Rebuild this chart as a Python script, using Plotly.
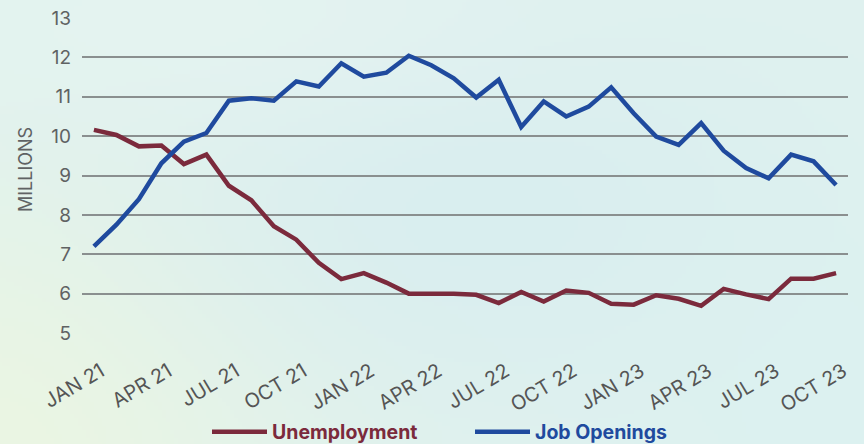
import base64
import struct
import zlib

import numpy as np
import plotly.graph_objects as go

# Monthly labels, Jan 2021 through Oct 2023
months = []
for yr in (21, 22, 23):
    for m in ["JAN", "FEB", "MAR", "APR", "MAY", "JUN", "JUL", "AUG", "SEP", "OCT", "NOV", "DEC"]:
        months.append(f"{m} {yr}")
months = months[:34]

# Millions of people
unemployment = [10.16, 10.03, 9.74, 9.76, 9.29, 9.53, 8.74, 8.37, 7.71, 7.37,
                6.78, 6.37, 6.52, 6.28, 6.00, 6.00, 6.00, 5.97, 5.76, 6.04,
                5.80, 6.08, 6.02, 5.74, 5.72, 5.96, 5.87, 5.69, 6.12, 5.98,
                5.86, 6.38, 6.38, 6.52]
job_openings = [7.20, 7.75, 8.40, 9.31, 9.86, 10.08, 10.90, 10.96, 10.90, 11.39,
                11.26, 11.85, 11.51, 11.61, 12.04, 11.80, 11.47, 10.98, 11.43, 10.23,
                10.88, 10.50, 10.75, 11.24, 10.58, 9.99, 9.78, 10.33, 9.63, 9.19,
                8.93, 9.53, 9.36, 8.76]

tick_idx = list(range(0, 34, 3))
tick_text = [months[i] for i in tick_idx]

RED = "#7b2a3c"
BLUE = "#1f4a9e"

# plot-area geometry in pixels
L, R, T, B = 82, 16, 18, 111
PW, PH = 864 - L - R, 444 - T - B


def png_data_uri(rgb):
    """Encode an HxWx3 uint8 array as a PNG data URI."""
    h, w, _ = rgb.shape
    raw = b"".join(b"\x00" + rgb[r].tobytes() for r in range(h))

    def chunk(tag, data):
        return struct.pack(">I", len(data)) + tag + data + struct.pack(">I", zlib.crc32(tag + data) & 0xFFFFFFFF)

    png = (b"\x89PNG\r\n\x1a\n"
           + chunk(b"IHDR", struct.pack(">IIBBBBB", w, h, 8, 2, 0, 0, 0))
           + chunk(b"IDAT", zlib.compress(raw, 9))
           + chunk(b"IEND", b""))
    return "data:image/png;base64," + base64.b64encode(png).decode()


# Soft pastel backdrop: mint base, pale yellow-green at the lower left,
# a faint blue haze through the middle and a lighter band at the top
W, H = 216, 111
yy, xx = np.mgrid[0:H, 0:W].astype(float)
u, v = xx / (W - 1), yy / (H - 1)
img = np.tile(np.array([224, 242, 239], float), (H, W, 1))


def blob(cx, cy, rx, ry, color, strength):
    global img
    wgt = strength * np.exp(-(((u - cx) / rx) ** 2 + ((v - cy) / ry) ** 2))
    img = img * (1 - wgt[..., None]) + np.array(color, float) * wgt[..., None]


blob(0.0, 1.0, 0.35, 0.6, [236, 246, 226], 0.9)
blob(0.55, 0.45, 0.35, 0.45, [214, 236, 240], 0.7)
blob(0.25, 0.05, 0.4, 0.25, [232, 245, 242], 0.6)
blob(0.95, 0.9, 0.2, 0.5, [218, 241, 241], 0.6)
bg_uri = png_data_uri(np.clip(img, 0, 255).astype(np.uint8))

fig = go.Figure()
fig.add_trace(go.Scatter(
    x=list(range(len(months))), y=unemployment, mode="lines",
    name=f"<span style='color:{RED}'>Unemployment</span>",
    line=dict(color=RED, width=4.5),
))
fig.add_trace(go.Scatter(
    x=list(range(len(months))), y=job_openings, mode="lines",
    name=f"<span style='color:{BLUE}'>Job Openings</span>",
    line=dict(color=BLUE, width=4.5),
))

fig.update_layout(
    width=864, height=444,
    margin=dict(l=L, r=R, t=T, b=B, autoexpand=False),
    paper_bgcolor="#e0f2ef",
    plot_bgcolor="rgba(0,0,0,0)",
    font=dict(family="Inter", color="#5a5a5a"),
    images=[dict(source=bg_uri, xref="paper", yref="paper", x=-L / PW, y=1 + T / PH,
                 sizex=864 / PW, sizey=444 / PH, xanchor="left", yanchor="top",
                 sizing="stretch", layer="below")],
    showlegend=True,
    legend=dict(
        orientation="h", x=(207 - L) / PW, xanchor="left", y=-(432 - (T + PH)) / PH, yanchor="middle",
        font=dict(family="Inter", size=19.5, weight="bold"),
        itemwidth=55, bgcolor="rgba(0,0,0,0)",
        traceorder="normal", entrywidth=193,
    ),
    xaxis=dict(
        range=[-0.53, 33.53], tickmode="array", tickvals=tick_idx, ticktext=tick_text,
        tickangle=-31, tickfont=dict(size=20, color="#555555"),
        ticklabelstandoff=22, ticklabelshift=7,
        showgrid=False, zeroline=False, showline=False, ticks="", automargin=False,
    ),
    yaxis=dict(
        range=[5, 13], dtick=1, tick0=5, showgrid=True, gridcolor="#8a8f8f", gridwidth=1.5,
        zeroline=False, showline=False, ticks="", ticklabelstandoff=10, automargin=False,
        tickfont=dict(size=19, color="#5f6263"),
    ),
    annotations=[dict(
        text="MILLIONS", textangle=-90, showarrow=False,
        xref="paper", yref="paper", x=(26 - L) / PW, y=(T + PH - 170) / PH,
        xanchor="center", yanchor="middle",
        font=dict(family="Inter", size=18, color="#5f6263"),
    )],
)

fig.write_html("out.html")
